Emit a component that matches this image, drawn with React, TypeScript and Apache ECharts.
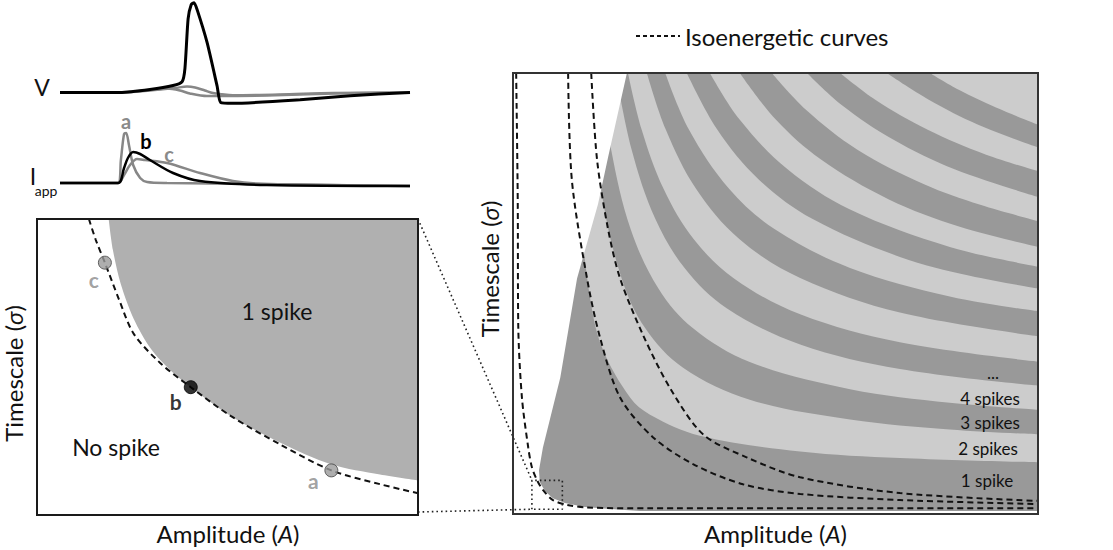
import React, { useEffect, useRef } from 'react';
import * as echarts from 'echarts';

const FONT = 'Lato, "Open Sans", sans-serif';

// ---------- traces (time 0-100, V in mV, I in % of a-peak) ----------
const vSpike: number[][] = [[0,-65],[17.1,-65],[25.7,-61.7],[32.3,-57.2],[34.9,-52.8],[35.7,-38],[36.6,17],[37.5,33],[38.3,35],[39.2,27],[42,-9],[44.9,-58],[45.9,-76],[49.4,-77],[68.6,-73],[82.9,-68.5],[100,-65]];
const vSubA: number[][] = [[0,-65],[17.1,-65],[25.7,-62.8],[32.9,-60],[36.3,-58.3],[38.6,-59.4],[41.4,-62.8],[43.7,-65.6],[49.4,-68],[62.9,-67.2],[78,-65.6],[100,-65]];
const vSubC: number[][] = [[0,-65],[17.1,-65],[25.7,-62.2],[30.6,-60.6],[34.3,-62.8],[37.1,-66.1],[42,-69],[59.1,-68.3],[78,-66.1],[100,-65]];

const iA: number[][] = [[0,0],[16.6,0],[17.4,46],[18.3,98],[18.9,100],[19.7,76],[20.9,36],[22.9,10],[24.9,2],[30.6,0],[68.6,-3],[100,-6]];
const iB: number[][] = [[0,0],[16.6,0],[18.3,30],[19.4,50],[20.9,62],[22.9,58],[25.7,46],[32.3,20],[40,4],[59.1,-4],[100,-6]];
const iC: number[][] = [[0,0],[16.6,0],[18.3,16],[20,36],[22,48],[24.3,46],[30.6,40],[40,20],[49.4,4],[59.1,-2],[100,-6]];

// ---------- zoomed phase diagram (amplitude 0-100, timescale 0-100) ----------
const spikeEdgeZoom: number[][] = [[18.6,100],[19.7,89.5],[21.8,77.7],[25.2,65.9],[29.7,55.7],[34.9,48.3],[40.2,42.6],[50.7,32.8],[63.8,23.6],[77.2,16.2],[90,12.8],[100,10.8]];
const isoZoom: number[][] = [[13.4,100],[15.2,92.9],[17.6,85.1],[21.3,72.6],[25.2,60.8],[32.3,50.7],[40.2,42.6],[50.7,32.8],[63.8,23],[77.2,14.2],[90,9.5],[100,6.4]];
const stimNames = ['a', 'b', 'c'];
const stimAmp = [77.2, 40.2, 17.6];
const stimTau = [14.2, 42.6, 85.1];

// ---------- full phase diagram: boundaries between n and n+1 spikes ----------
const b1 = [[11.5,100],[12.6,71.2],[14.7,48.5],[17,37.2],[22.3,25.9],[26.1,22],[35.6,17.2],[54.7,13.6],[73.7,12.1],[100,11.1]];
const b2 = [[14.4,100],[17.1,71.2],[20.7,53.1],[25.2,41.7],[32.4,32.7],[45.1,25.4],[64.2,20.9],[83.2,18.6],[100,17.5]];
const b3 = [[16.7,100],[18.7,82.5],[22.4,64.4],[27.7,50.8],[34.3,41.7],[45.1,34],[64.2,27.8],[83.2,24.7],[100,23.1]];
const b4 = [[19.6,100],[22.6,82.5],[27.1,66.7],[32.8,55.3],[40.7,46.3],[54.7,38],[73.7,32.4],[100,28.6]];
const b5 = [[21.9,100],[24.5,87.1],[28.7,73.5],[34.4,62.1],[42.1,53.1],[54.7,44.9],[73.7,38.5],[100,34.1]];
const b6 = [[25.5,100],[29.1,87.1],[34.9,73.5],[43.1,62.1],[54.7,53.2],[73.7,45.3],[100,39.9]];
const b7 = [[29,100],[33.5,87.1],[41.2,73.5],[49.8,64.4],[64.2,55.5],[83.2,49],[100,45.6]];
const b8 = [[33.1,100],[38.9,87.1],[46.8,75.7],[57,66.7],[73.7,58],[87,53.7],[100,50.8]];
const b9 = [[37.5,100],[43.2,89.3],[52.3,78],[64.1,68.9],[83.2,60.3],[100,55.8]];
const b10 = [[43.2,100],[50.1,89.3],[58.6,80.3],[71.5,71.2],[85.1,64.9],[100,60.3]];
const b11 = [[49.3,100],[55.8,91.6],[65.6,82.5],[78.3,74.6],[89,69.9],[100,66.2]];
const b12 = [[56,100],[62.6,92.7],[72.4,84.8],[84.1,78],[100,71.7]];
const b13 = [[62.3,100],[69,93.9],[78.9,87.1],[90,81.4],[100,77.6]];
const b14 = [[71.2,100],[79.2,93.9],[88.6,88.2],[100,83]];
const b15 = [[79.4,100],[85,96.1],[92,92.1],[100,88.2]];
const spikeEdges = [b1, b2, b3, b4, b5, b6, b7, b8, b9, b10, b11, b12, b13, b14, b15];

const noSpikeRegion: number[][] = [[0,100],[21.7,100],[18.1,80.7],[16.2,70.1],[12.2,53.1],[9,30.4],[5.7,14.5],[4.95,9.3],[5.1,6.6],[6.1,4.5],[7.6,2.9],[9.9,1.8],[13.7,0.9],[18.5,0.45],[24.2,0],[0,0]];

const iso1: number[][] = [[0.6,100],[0.9,71.2],[1,42.4],[1.7,25.9],[2.9,14.5],[3.6,10],[4.6,7],[5.7,4.8],[7.6,2.5],[10.3,1.4],[14.1,0.8],[26.1,0.6],[100,0.6]];
const iso2: number[][] = [[10.5,100],[11.2,75.7],[14.1,53.1],[16.6,39.5],[20.4,25.9],[26.7,16.8],[34.3,10.7],[43.8,6.1],[54.7,3.9],[73.7,2.5],[100,1.6]];
const iso3: number[][] = [[14.9,100],[16,80.3],[18.1,64.4],[20.4,53.1],[24.8,40.1],[29.9,28.1],[36.2,17.5],[44.6,12.2],[54.7,7.7],[73.7,4.1],[100,2.3]];

const zoomBox: number[][] = [[3.6,0.4],[3.6,7],[9.4,7],[9.4,0.4],[3.6,0.4]];

const spikeLabels = ['1 spike', '2 spikes', '3 spikes', '4 spikes', '...'];

// ---------- layout ----------
const GV = { left: 60, top: 0, width: 350, height: 106 };
const GI = { left: 60, top: 128, width: 350, height: 60 };
const GL = { left: 37, top: 219, width: 381, height: 296 };
const GR = { left: 513, top: 73, width: 525, height: 441 };
const spikeLabelPos = [[987, 480], [988, 448], [990, 422], [990, 398], [993, 372]];

const LIGHT = '#cccccc';
const DARK = '#999999';
const TRACE_GRAY = '#878787';

function axis(gridIndex: number, min: number, max: number, extra: any = {}) {
  return {
    type: 'value', gridIndex, min, max,
    axisLine: { show: false }, axisTick: { show: false },
    axisLabel: { show: false }, splitLine: { show: false },
    ...extra,
  };
}

const nameStyle = (size: number, padding: number[] = [0, 0, 0, 0]) => ({
  fontFamily: FONT, fontSize: size, color: '#111', padding,
  rich: { i: { fontFamily: FONT, fontSize: size, fontStyle: 'italic', color: '#111' } },
});

export default function App() {
  const ref = useRef<HTMLDivElement>(null);
  useEffect(() => {
    const chart = echarts.init(ref.current!, null, { renderer: 'svg' });
    const lineBase = { type: 'line', symbol: 'none', silent: true, color: '#111' };

    // area above boundary k belongs to k+1 or more spikes; outer bands drawn last
    const bandSeries = spikeEdges.map((edge, i) => ({
      ...lineBase,
      xAxisIndex: 3, yAxisIndex: 3,
      data: edge,
      smooth: 0.35,
      z: 2,
      lineStyle: { width: 0 },
      areaStyle: { color: (i + 2) % 2 === 0 ? LIGHT : DARK, opacity: 1, origin: 'end' },
    }));

    const isoStyle = { color: '#111', width: 2, type: [6, 4] };

    chart.setOption({
      animation: false,
      grid: [
        { ...GV },
        { ...GI },
        { ...GL, show: true, backgroundColor: '#fff', borderWidth: 0 },
        { ...GR, show: true, backgroundColor: DARK, borderWidth: 0 },
      ],
      xAxis: [
        axis(0, 0, 100, { show: false }),
        axis(1, 0, 100, { show: false }),
        axis(2, 0, 100, { name: 'Amplitude ({i|A})', nameLocation: 'middle', nameGap: 9, nameTextStyle: nameStyle(24) }),
        axis(3, 0, 100, { name: 'Amplitude ({i|A})', nameLocation: 'middle', nameGap: 10, nameTextStyle: nameStyle(24) }),
      ],
      yAxis: [
        axis(0, -80, 38, { show: false }),
        axis(1, -10, 110, { show: false }),
        axis(2, 0, 100, { name: 'Timescale ({i|σ})', nameLocation: 'middle', nameGap: 13, nameTextStyle: nameStyle(24, [0, 16, 0, 0]) }),
        axis(3, 0, 100, { name: 'Timescale ({i|σ})', nameLocation: 'middle', nameGap: 12, nameTextStyle: nameStyle(24, [0, 0, 0, 46]) }),
      ],
      legend: {
        data: ['Isoenergetic curves'],
        left: 630, top: 19,
        itemWidth: 44, itemHeight: 14,
        selectedMode: false,
        itemStyle: { opacity: 0 },
        textStyle: { fontFamily: FONT, fontSize: 24, color: '#111' },
        lineStyle: { type: [4, 3], width: 2, color: '#111' },
      },
      series: [
        // V traces
        { ...lineBase, xAxisIndex: 0, yAxisIndex: 0, data: vSubA, smooth: 0.3, lineStyle: { color: TRACE_GRAY, width: 2.5 } },
        { ...lineBase, xAxisIndex: 0, yAxisIndex: 0, data: vSubC, smooth: 0.3, lineStyle: { color: TRACE_GRAY, width: 2.5 } },
        { ...lineBase, xAxisIndex: 0, yAxisIndex: 0, data: vSpike, smooth: 0.2, lineStyle: { color: '#000', width: 3 } },
        // I traces
        { ...lineBase, xAxisIndex: 1, yAxisIndex: 1, data: iA, smooth: 0.3, lineStyle: { color: TRACE_GRAY, width: 2.5 } },
        { ...lineBase, xAxisIndex: 1, yAxisIndex: 1, data: iC, smooth: 0.3, lineStyle: { color: TRACE_GRAY, width: 2.5 } },
        { ...lineBase, xAxisIndex: 1, yAxisIndex: 1, data: iB, smooth: 0.3, lineStyle: { color: '#000', width: 2.5 } },
        // zoomed panel
        {
          ...lineBase, xAxisIndex: 2, yAxisIndex: 2, data: spikeEdgeZoom, smooth: 0.3,
          lineStyle: { width: 0 }, areaStyle: { color: '#b0b0b0', opacity: 1, origin: 'end' },
        },
        { ...lineBase, name: 'Isoenergetic curves', z: 4, xAxisIndex: 2, yAxisIndex: 2, data: isoZoom, smooth: 0.3, lineStyle: isoStyle },
        {
          type: 'scatter', xAxisIndex: 2, yAxisIndex: 2, symbolSize: 13, silent: true, z: 5,
          data: stimNames.map((n, i) => ({
            name: n,
            value: [stimAmp[i], stimTau[i]],
            itemStyle: n === 'b'
              ? { color: '#000', borderColor: '#000', borderWidth: 1 }
              : { color: '#9a9a9a', borderColor: '#444', borderWidth: 1 },
            label: {
              show: true, formatter: '{b}', position: 'inside',
              offset: n === 'a' ? [-18, 10] : n === 'b' ? [-15, 14] : [-11, 17],
              fontFamily: FONT, fontSize: 21, fontWeight: 'bold',
              color: n === 'b' ? '#000' : '#8a8a8a',
            },
          })),
        },
        // full panel bands
        ...bandSeries,
        {
          type: 'custom', xAxisIndex: 3, yAxisIndex: 3, silent: true, z: 3, data: noSpikeRegion,
          renderItem: (params: any, api: any) => {
            if (params.dataIndex !== 0) return null;
            return {
              type: 'polygon',
              z2: 10,
              shape: { points: noSpikeRegion.map((p) => api.coord(p)) },
              style: { fill: '#ffffff', stroke: 'none' },
            };
          },
        },
        { ...lineBase, name: 'Isoenergetic curves', z: 4, xAxisIndex: 3, yAxisIndex: 3, data: iso1, smooth: 0.3, lineStyle: isoStyle },
        { ...lineBase, name: 'Isoenergetic curves', z: 4, xAxisIndex: 3, yAxisIndex: 3, data: iso2, smooth: 0.3, lineStyle: isoStyle },
        { ...lineBase, name: 'Isoenergetic curves', z: 4, xAxisIndex: 3, yAxisIndex: 3, data: iso3, smooth: 0.3, lineStyle: isoStyle },
        { ...lineBase, z: 4, xAxisIndex: 3, yAxisIndex: 3, data: zoomBox, lineStyle: { color: '#222', width: 1.6, type: [1.6, 3] } },
      ],
    });

    const boxTL = chart.convertToPixel({ gridIndex: 3 }, zoomBox[1]) as number[];
    const boxBL = chart.convertToPixel({ gridIndex: 3 }, zoomBox[0]) as number[];
    const panelTR = chart.convertToPixel({ gridIndex: 2 }, [100, 100]) as number[];
    const panelBR = chart.convertToPixel({ gridIndex: 2 }, [100, 0]) as number[];

    const txt = (text: string, x: number, y: number, size: number, extra: any = {}) => ({
      type: 'text', x, y, z: 100,
      style: { text, fontFamily: FONT, fontSize: size, fill: '#111', align: 'center', verticalAlign: 'middle', ...extra },
    });

    chart.setOption({
      graphic: {
        elements: [
          { type: 'line', z: 90, shape: { x1: panelTR[0], y1: panelTR[1], x2: boxTL[0], y2: boxTL[1] }, style: { stroke: '#222', lineWidth: 1.6, lineDash: [1.6, 3] } },
          { type: 'line', z: 90, shape: { x1: panelBR[0], y1: panelBR[1], x2: boxBL[0], y2: boxBL[1] }, style: { stroke: '#222', lineWidth: 1.6, lineDash: [1.6, 3] } },
          { type: 'rect', z: 100, shape: { x: GL.left, y: GL.top, width: GL.width, height: GL.height }, style: { fill: 'none', stroke: '#1a1a1a', lineWidth: 2 } },
          { type: 'rect', z: 100, shape: { x: GR.left, y: GR.top, width: GR.width, height: GR.height }, style: { fill: 'none', stroke: '#333', lineWidth: 2 } },
          txt('V', 42, 87, 23),
          txt('I', 33, 176, 23),
          txt('app', 46, 190, 14),
          txt('a', 126, 121, 20, { fontWeight: 'bold', fill: '#8a8a8a' }),
          txt('b', 146, 141, 20, { fontWeight: 'bold', fill: '#000' }),
          txt('c', 169, 154, 20, { fontWeight: 'bold', fill: '#8a8a8a' }),
          txt('1 spike', 277, 311, 23),
          txt('No spike', 116, 447, 23),
          ...spikeLabels.map((s, i) => txt(s, spikeLabelPos[i][0], spikeLabelPos[i][1], 17)),
        ],
      },
    });

    return () => chart.dispose();
  }, []);
  return <div ref={ref} style={{ position: 'fixed', left: 0, top: 0, width: 1113, height: 550, background: '#fff' }} />;
}
